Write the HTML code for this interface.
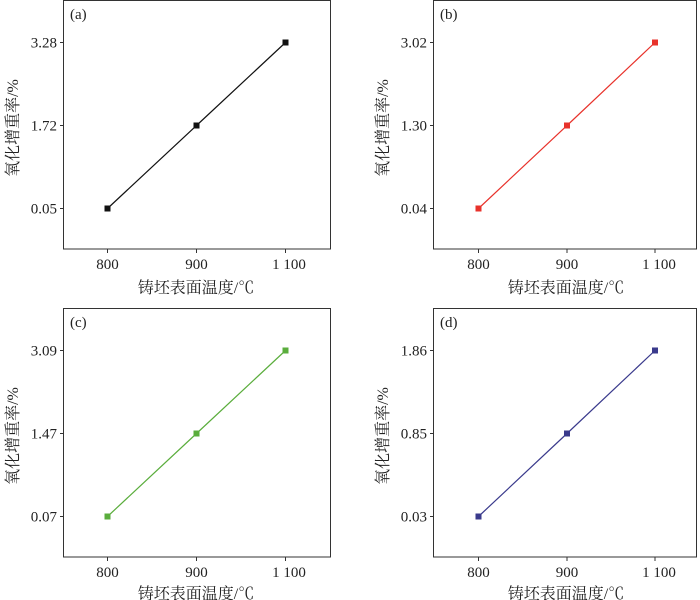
<!DOCTYPE html>
<html><head><meta charset="utf-8"><style>body{margin:0;background:#fff}svg{display:block}text{font-family:"Liberation Serif","Noto Serif CJK SC",serif;fill:#222}</style></head><body>
<svg width="700" height="600" xmlns="http://www.w3.org/2000/svg">
<g transform="translate(0,0)">
<rect x="63.5" y="0.5" width="267" height="248.5" fill="none" stroke="#333" stroke-width="1"/>
<g stroke="#333"><line x1="60" y1="42.5" x2="63.5" y2="42.5"/><line x1="60" y1="125.5" x2="63.5" y2="125.5"/><line x1="60" y1="208.5" x2="63.5" y2="208.5"/>
<line x1="107.5" y1="249" x2="107.5" y2="253"/><line x1="196.5" y1="249" x2="196.5" y2="253"/><line x1="285.5" y1="249" x2="285.5" y2="253"/></g>
<g font-size="15" text-anchor="end"><text x="57" y="47.5">3.28</text><text x="57" y="130.5">1.72</text><text x="57" y="213.5">0.05</text></g>
<g font-size="15" text-anchor="middle"><text x="107.5" y="269">800</text><text x="196.5" y="269">900</text><text x="289" y="269">1 100</text></g>
<text x="196" y="293" font-size="16" text-anchor="middle">铸坯表面温度/℃</text>
<text transform="translate(18,128) rotate(-90)" font-size="16" text-anchor="middle">氧化增重率/%</text>
<text x="70" y="19" font-size="15">(a)</text>
<polyline points="107.5,208.5 196.5,125.5 285.5,42.5" fill="none" stroke="#111" stroke-width="1.2"/>
<g fill="#111"><rect x="104.5" y="205.5" width="6" height="6"/><rect x="193.5" y="122.5" width="6" height="6"/><rect x="282.5" y="39.5" width="6" height="6"/></g>
</g>
<g transform="translate(370,0)">
<rect x="63.5" y="0.5" width="263" height="248.5" fill="none" stroke="#333" stroke-width="1"/>
<g stroke="#333"><line x1="60" y1="42.5" x2="63.5" y2="42.5"/><line x1="60" y1="125.5" x2="63.5" y2="125.5"/><line x1="60" y1="208.5" x2="63.5" y2="208.5"/>
<line x1="108.5" y1="249" x2="108.5" y2="253"/><line x1="197" y1="249" x2="197" y2="253"/><line x1="285" y1="249" x2="285" y2="253"/></g>
<g font-size="15" text-anchor="end"><text x="57" y="47.5">3.02</text><text x="57" y="130.5">1.30</text><text x="57" y="213.5">0.04</text></g>
<g font-size="15" text-anchor="middle"><text x="108.5" y="269">800</text><text x="197" y="269">900</text><text x="289" y="269">1 100</text></g>
<text x="196" y="293" font-size="16" text-anchor="middle">铸坯表面温度/℃</text>
<text transform="translate(18,128) rotate(-90)" font-size="16" text-anchor="middle">氧化增重率/%</text>
<text x="70" y="19" font-size="15">(b)</text>
<polyline points="108.5,208.5 197,125.5 285,42.5" fill="none" stroke="#e8322b" stroke-width="1.2"/>
<g fill="#e8322b"><rect x="105.5" y="205.5" width="6" height="6"/><rect x="194" y="122.5" width="6" height="6"/><rect x="282" y="39.5" width="6" height="6"/></g>
</g>
<g transform="translate(0,308)">
<rect x="63.5" y="0.5" width="267" height="248.5" fill="none" stroke="#333" stroke-width="1"/>
<g stroke="#333"><line x1="60" y1="42.5" x2="63.5" y2="42.5"/><line x1="60" y1="125.5" x2="63.5" y2="125.5"/><line x1="60" y1="208.5" x2="63.5" y2="208.5"/>
<line x1="107.5" y1="249" x2="107.5" y2="253"/><line x1="196.5" y1="249" x2="196.5" y2="253"/><line x1="285.5" y1="249" x2="285.5" y2="253"/></g>
<g font-size="15" text-anchor="end"><text x="57" y="47.5">3.09</text><text x="57" y="130.5">1.47</text><text x="57" y="213.5">0.07</text></g>
<g font-size="15" text-anchor="middle"><text x="107.5" y="269">800</text><text x="196.5" y="269">900</text><text x="289" y="269">1 100</text></g>
<text x="196" y="291" font-size="16" text-anchor="middle">铸坯表面温度/℃</text>
<text transform="translate(18,128) rotate(-90)" font-size="16" text-anchor="middle">氧化增重率/%</text>
<text x="70" y="19" font-size="15">(c)</text>
<polyline points="107.5,208.5 196.5,125.5 285.5,42.5" fill="none" stroke="#5aad3c" stroke-width="1.2"/>
<g fill="#5aad3c"><rect x="104.5" y="205.5" width="6" height="6"/><rect x="193.5" y="122.5" width="6" height="6"/><rect x="282.5" y="39.5" width="6" height="6"/></g>
</g>
<g transform="translate(370,308)">
<rect x="63.5" y="0.5" width="263" height="248.5" fill="none" stroke="#333" stroke-width="1"/>
<g stroke="#333"><line x1="60" y1="42.5" x2="63.5" y2="42.5"/><line x1="60" y1="125.5" x2="63.5" y2="125.5"/><line x1="60" y1="208.5" x2="63.5" y2="208.5"/>
<line x1="108.5" y1="249" x2="108.5" y2="253"/><line x1="197" y1="249" x2="197" y2="253"/><line x1="285" y1="249" x2="285" y2="253"/></g>
<g font-size="15" text-anchor="end"><text x="57" y="47.5">1.86</text><text x="57" y="130.5">0.85</text><text x="57" y="213.5">0.03</text></g>
<g font-size="15" text-anchor="middle"><text x="108.5" y="269">800</text><text x="197" y="269">900</text><text x="289" y="269">1 100</text></g>
<text x="196" y="291" font-size="16" text-anchor="middle">铸坯表面温度/℃</text>
<text transform="translate(18,128) rotate(-90)" font-size="16" text-anchor="middle">氧化增重率/%</text>
<text x="70" y="19" font-size="15">(d)</text>
<polyline points="108.5,208.5 197,125.5 285,42.5" fill="none" stroke="#3a3a8c" stroke-width="1.2"/>
<g fill="#3a3a8c"><rect x="105.5" y="205.5" width="6" height="6"/><rect x="194" y="122.5" width="6" height="6"/><rect x="282" y="39.5" width="6" height="6"/></g>
</g>
</svg>
</body></html>
